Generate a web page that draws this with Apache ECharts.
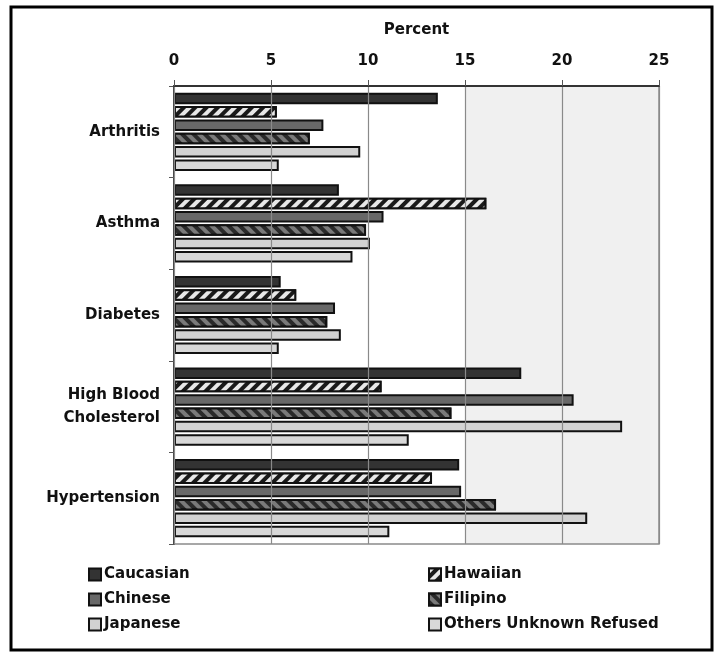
<!DOCTYPE html>
<html><head><meta charset="utf-8">
<script src="https://cdn.jsdelivr.net/npm/echarts@6/dist/echarts.min.js"></script>
<style>html,body{margin:0;padding:0;background:#fff}#c{width:715px;height:656px}</style>
</head><body><div id="c"></div>
<script>
const categories = ['Arthritis', 'Asthma', 'Diabetes', 'High Blood\nCholesterol', 'Hypertension'];
const xTicks = [0, 5, 10, 15, 20, 25];
const caucasian = [13.6, 8.5, 5.5, 17.9, 14.7];
const hawaiian  = [5.3, 16.1, 6.3, 10.7, 13.3];
const chinese   = [7.7, 10.8, 8.3, 20.6, 14.8];
const filipino  = [7.0, 9.9, 7.9, 14.3, 16.6];
const japanese  = [9.6, 10.1, 8.6, 23.1, 21.3];
const others    = [5.4, 9.2, 5.4, 12.1, 11.1];

const FONT = 'DejaVu Sans';
const chart = echarts.init(document.getElementById('c'), null, {renderer: 'canvas'});
const border = {borderColor: '#111', borderWidth: 2};
function bar(name, data, style) {
  return {
    name, type: 'bar', data,
    barWidth: 11.5, barGap: '16%',
    itemStyle: Object.assign({}, border, style),
    emphasis: {disabled: true}
  };
}
const series = [
  bar('Caucasian', caucasian, {color: '#333333'}),
  bar('Hawaiian', hawaiian, {color: '#1a1a1a', decal: {symbol: 'rect', symbolSize: 1, dashArrayX: [1, 0], dashArrayY: [3.5, 3.5], rotation: -Math.PI / 4, color: '#e8e8e8'}}),
  bar('Chinese', chinese, {color: '#686868'}),
  bar('Filipino', filipino, {color: '#2a2a2a', decal: {symbol: 'rect', symbolSize: 1, dashArrayX: [1, 0], dashArrayY: [3.5, 3.5], rotation: Math.PI / 4, color: '#7a7a7a'}}),
  bar('Japanese', japanese, {color: '#d2d2d2'}),
  bar('Others Unknown Refused', others, {color: '#d8d8d8'})
];

const legendCommon = {
  orient: 'vertical', top: 567, padding: 0, itemGap: 10,
  itemWidth: 12, itemHeight: 12, icon: 'rect',
  textStyle: {fontFamily: FONT, fontWeight: 'bold', fontSize: 15, color: '#111', padding: [0, 0, 0, -2]},
  selectedMode: false
};
chart.setOption({
  animation: false,
  backgroundColor: '#fff',
  textStyle: {fontFamily: FONT},
  graphic: [{type: 'rect', shape: {x: 11, y: 7, width: 701, height: 643}, style: {fill: 'none', stroke: '#000', lineWidth: 3}, z: 100}],
  grid: {
    left: 174, right: 56, top: 86, bottom: 112, show: true, borderColor: '#8a8a8a', borderWidth: 1.5,
    backgroundColor: new echarts.graphic.LinearGradient(0, 0, 1, 0, [
      {offset: 0, color: '#ffffff'}, {offset: 0.6, color: '#ffffff'},
      {offset: 0.6, color: '#f0f0f0'}, {offset: 1, color: '#f0f0f0'}
    ])
  },
  legend: [
    Object.assign({left: 88, data: ['Caucasian', 'Chinese', 'Japanese']}, legendCommon),
    Object.assign({left: 428, data: ['Hawaiian', 'Filipino', 'Others Unknown Refused']}, legendCommon)
  ],
  xAxis: {
    type: 'value', position: 'top', min: xTicks[0], max: xTicks[xTicks.length - 1], interval: 5,
    name: 'Percent', nameLocation: 'middle', nameGap: 48,
    nameTextStyle: {fontFamily: FONT, fontWeight: 'bold', fontSize: 15, color: '#111'},
    axisLine: {show: true, lineStyle: {color: '#333', width: 2}},
    axisTick: {show: true, length: 6, lineStyle: {color: '#555'}},
    axisLabel: {fontFamily: FONT, fontWeight: 'bold', fontSize: 15, color: '#111', margin: 17},
    splitLine: {show: true, lineStyle: {color: '#8a8a8a', width: 1.2}},
    z: 5
  },
  yAxis: {
    type: 'category', data: categories, inverse: true,
    axisLine: {show: true, lineStyle: {color: '#222', width: 1.5}},
    axisTick: {show: true, length: 5, lineStyle: {color: '#555'}},
    axisLabel: {fontFamily: FONT, fontWeight: 'bold', fontSize: 15, color: '#111', margin: 14, lineHeight: 23, align: 'right'}
  },
  series
});
</script></body></html>
